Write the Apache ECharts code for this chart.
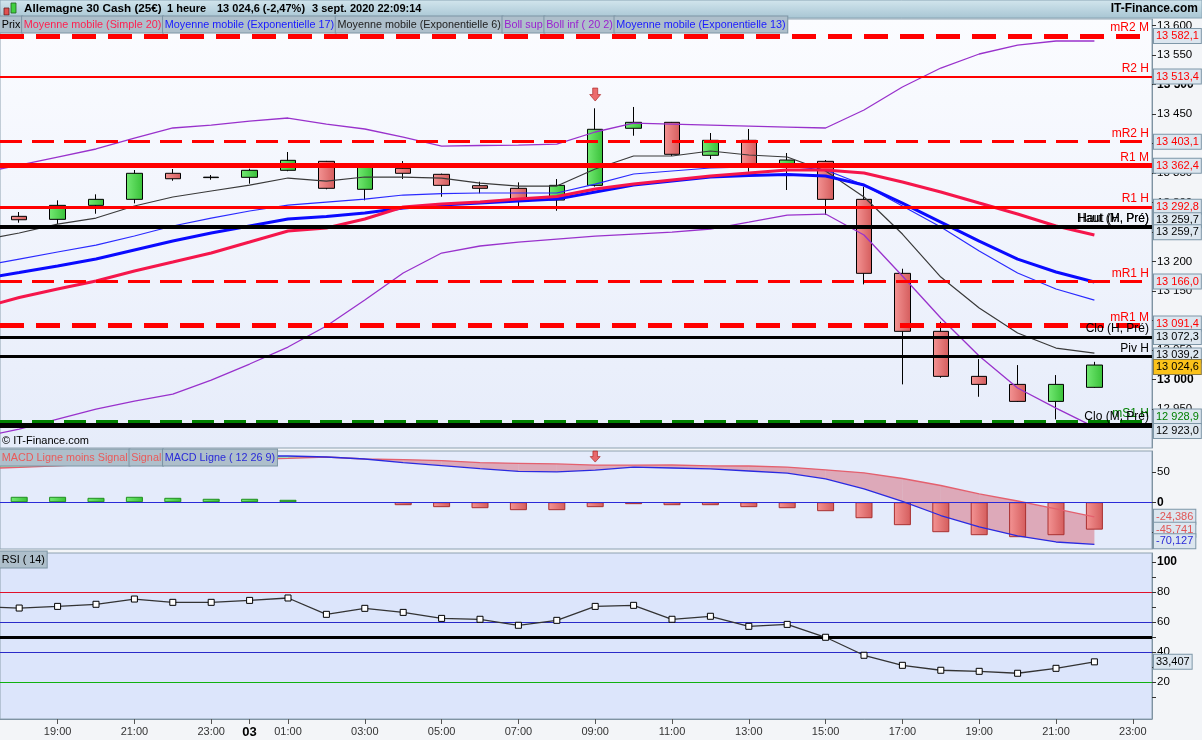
<!DOCTYPE html>
<html><head><meta charset="utf-8">
<script src="https://cdn.jsdelivr.net/npm/echarts@6/dist/echarts.min.js"></script>
<style>html,body{margin:0;padding:0;background:#f3f5f8;}#c{width:1202px;height:740px;}</style>
</head><body><div id="c"></div>
<script>
// ---------------- DATA ----------------
const times = ['2 18:00','2 19:00','2 20:00','2 21:00','2 22:00','2 23:00',
  '3 00:00','3 01:00','3 02:00','3 03:00','3 04:00','3 05:00','3 06:00','3 07:00','3 08:00','3 09:00',
  '3 10:00','3 11:00','3 12:00','3 13:00','3 14:00','3 15:00','3 16:00','3 17:00','3 18:00','3 19:00',
  '3 20:00','3 21:00','3 22:00','3 23:00'];
const openP  = [13276.6,13271.5,13295.2,13305.4,13349.5,13342.2,13342.7,13354.6,13369.8,13322.4,13358.0,13347.8,13328.5,13324.1,13304.2,13329.1,13425.8,13435.9,13380.0,13405.4,13365.3,13369.8,13305.4,13180.0,13081.7,13005.4,12991.8,12963.0,12986.8];
const closeP = [13270.8,13295.2,13305.4,13349.5,13340.3,13343.0,13354.6,13371.5,13324.1,13360.2,13349.5,13329.1,13324.1,13304.2,13329.1,13424.1,13435.9,13381.7,13405.4,13362.0,13372.0,13305.4,13180.0,13081.7,13005.4,12991.8,12963.0,12991.8,13024.6];
const lowP   = [13265.8,13263.5,13281.0,13298.6,13336.9,13338.6,13331.9,13353.0,13322.4,13303.7,13339.8,13309.8,13315.6,13294.1,13286.1,13327.0,13413.2,13378.8,13373.7,13352.2,13321.2,13278.8,13161.3,12991.8,13003.0,12970.8,12962.0,12932.5,12986.0];
const highP  = [13283.9,13303.7,13313.9,13355.1,13356.8,13346.6,13357.3,13385.6,13370.5,13363.0,13370.3,13349.0,13335.2,13334.2,13339.8,13459.7,13461.9,13436.5,13417.8,13424.6,13383.9,13372.0,13326.8,13187.8,13098.0,13034.7,13024.5,13007.6,13030.0];

// indicator lines: first value = 17:00 (just left of the visible window), then 18:00 .. 22:00
const sma20   = [13121.2,13139.0,13153.4,13166.9,13183.9,13199.1,13214.4,13233.0,13251.7,13256.8,13272.0,13292.4,13297.4,13300.8,13305.9,13310.2,13322.9,13331.3,13338.1,13344.9,13350.0,13355.1,13355.1,13350.0,13334.7,13317.8,13299.1,13280.5,13260.2,13244.9];
const ema17   = [13170.3,13181.3,13192.4,13204.2,13219.5,13234.7,13248.3,13260.2,13272.0,13276.3,13282.2,13290.7,13295.7,13299.1,13302.5,13305.9,13317.8,13329.6,13336.4,13343.2,13345.7,13347.4,13344.9,13329.6,13299.1,13266.9,13234.7,13204.2,13182.2,13165.2];
const ema13   = [13192.4,13204.2,13216.1,13227.9,13243.2,13260.2,13273.7,13285.6,13295.7,13300.8,13305.9,13312.7,13315.2,13316.1,13316.1,13316.1,13331.3,13348.3,13353.4,13358.5,13360.2,13361.8,13355.1,13329.6,13294.1,13258.5,13217.8,13180.5,13153.4,13134.7];
const ema6    = [13236.4,13248.3,13263.5,13273.7,13294.1,13309.3,13319.5,13329.6,13341.5,13336.4,13343.2,13343.2,13341.5,13333.0,13327.9,13327.9,13356.8,13378.8,13378.8,13387.3,13380.5,13377.1,13353.4,13309.3,13246.6,13173.7,13121.2,13078.8,13053.4,13044.9];
const bollSup = [13350.0,13363.5,13377.1,13390.7,13409.3,13426.3,13431.3,13438.1,13443.2,13433.0,13424.6,13411.0,13395.7,13396.6,13397.4,13399.1,13419.5,13434.7,13433.0,13431.3,13429.6,13427.9,13426.3,13456.8,13495.7,13527.9,13551.7,13566.9,13573.7,13573.7];
const bollInf = [12902.5,12916.1,12933.0,12950.0,12963.5,12975.4,12999.1,13026.3,13055.1,13090.7,13134.7,13180.5,13214.4,13226.3,13233.0,13238.1,13243.2,13246.6,13250.0,13255.1,13266.9,13278.8,13280.5,13244.9,13175.4,13104.2,13039.8,12985.6,12951.7,12919.5];

const levelNames  = ['mR2 M','R2 H','mR2 H','R1 M','R1 H','Haut (H, Pré)','Haut (M, Pré)','mR1 H','mR1 M','Clo (H, Pré)','Piv H','mS1 H','Clo (M, Pré)'];
const levelValues = [13582.1,13513.4,13403.1,13362.4,13292.8,13259.7,13259.7,13166.0,13091.4,13072.3,13039.2,12928.9,12923.0];
const lastPrice = 13024.6;
const priceTicks = [12950,13000,13050,13100,13150,13200,13250,13300,13350,13400,13450,13500,13550,13600];

const macdLine   = [64.5,67,69.5,71.2,73.7,75.3,76.2,77,77,75.3,72,66,61,56,51.5,50.5,53.5,58.5,57,55.5,52,48.5,39,22.3,1.2,-22.2,-41.3,-56.3,-66.3,-70.127];
const signalLine = [56,58,60.5,63.9,64.7,68,70.5,71.3,73,75.3,72,71,69.3,66,64.8,63.8,61.8,61.8,62,60.5,60.3,58.5,54,49,39.5,27.8,13.7,2,-11.3,-24.386];
const macdHist   = [9.0,9.0,7.3,9.0,7.3,5.7,5.7,4.0,0,0,-5.0,-8.3,-10.0,-13.3,-13.3,-8.3,-3.3,-5.0,-5.0,-8.3,-10.0,-15.0,-26.7,-38.3,-50.0,-55.0,-58.3,-55.0,-45.741];
const macdTicks = [-50,0,50];

const rsi = [70.3,69.3,70.4,71.8,75.3,73.1,73.1,74.4,76.0,65.1,69.1,66.4,62.4,61.8,57.8,61.1,70.4,71.1,61.8,63.8,57.1,58.4,49.8,37.8,31.1,27.8,27.1,25.8,29.1,33.407];
const rsiLevels = [80,60,50,40,20];
const rsiLabels = [20,40,60,80,100];
const rsiTicks = [10,20,30,40,50,60,70,80,90,100];

const signalIdx = 15;            // 09:00 sell signal arrow
const signalArrowPrice = 13483;
const signalArrowMacd = 76;

// ---------------- HELPERS ----------------
const FONT = '"Liberation Sans", Arial, sans-serif';
function fmtNum(v, d) {
  const s = Math.abs(v).toFixed(d);
  let parts = s.split('.');
  let ip = parts[0].replace(/\B(?=(\d{3})+(?!\d))/g, ' ');
  return (v < 0 ? '-' : '') + ip + (parts[1] ? ',' + parts[1] : '');
}
const toXY = arr => arr.map((v, i) => [i - 1, v]);
const hGrad = (a, b) => ({type:'linear', x:0, y:0, x2:1, y2:0, colorStops:[{offset:0, color:a},{offset:1, color:b}]});
const vGrad = (a, b) => ({type:'linear', x:0, y:0, x2:0, y2:1, colorStops:[{offset:0, color:a},{offset:1, color:b}]});
const GREEN = hGrad('#74ea74', '#38c038');
const RED = hGrad('#f49494', '#d45c5c');

const RED_C = '#ff0000', BLK = '#000000', GRN_C = '#008000';
const levelStyle = {
  'mR2 M': {c:RED_C, w:5, t:[24,12]},
  'R2 H': {c:RED_C, w:2, t:'solid'},
  'mR2 H': {c:RED_C, w:3, t:[22,10]},
  'R1 M': {c:RED_C, w:5, t:'solid'},
  'R1 H': {c:RED_C, w:3, t:'solid'},
  'Haut (H, Pré)': {c:BLK, w:4, t:'solid'},
  'Haut (M, Pré)': {c:BLK, w:4, t:'solid'},
  'mR1 H': {c:RED_C, w:3, t:[22,10]},
  'mR1 M': {c:RED_C, w:5, t:[24,12]},
  'Clo (H, Pré)': {c:BLK, w:3, t:'solid'},
  'Piv H': {c:BLK, w:3, t:'solid'},
  'mS1 H': {c:GRN_C, w:4, t:[22,10]},
  'Clo (M, Pré)': {c:BLK, w:5, t:'solid'}
};
const boxOffset = {'Haut (H, Pré)':-6, 'Haut (M, Pré)':6, 'mS1 H':-5, 'Clo (M, Pré)':6, 'mR1 M':-2, 'Piv H':-1};
const boxStyle = {fontSize:11, fontFamily:FONT, backgroundColor:'#dce6ef', borderColor:'#7e97a8', borderWidth:1, padding:[2,2,1,2], distance:2};
const CLEAR = 'rgba(0,0,0,0)';

const levelLines = [];
levelNames.forEach((n, i) => {
  const st = levelStyle[n];
  levelLines.push({yAxis: levelValues[i], lineStyle:{color:st.c, width:st.w, type:st.t},
    label:{show:true, position:'insideEndTop', formatter:n, color:st.c, fontSize:12, fontFamily:FONT, distance:[3,2]}});
});
levelNames.forEach((n, i) => {
  const st = levelStyle[n];
  levelLines.push({yAxis: levelValues[i], lineStyle:{color:CLEAR, width:1},
    label:Object.assign({show:true, position:'end', formatter:fmtNum(levelValues[i],1), color:st.c, offset:[0, boxOffset[n]||0]}, boxStyle)});
});
levelLines.push({yAxis:lastPrice, lineStyle:{color:CLEAR, width:1},
  label:Object.assign({}, boxStyle, {show:true, position:'end', formatter:fmtNum(lastPrice,1), color:'#000', backgroundColor:'#fbc21a', borderColor:'#8a7a40', offset:[0,2]})});

// MACD fill segments
const fillData = [];
for (let i = 0; i < macdLine.length - 1; i++) {
  fillData.push([i - 1, macdLine[i], signalLine[i], i, macdLine[i+1], signalLine[i+1]]);
}
const FILL_NEG = 'rgba(212,88,104,0.45)', FILL_POS = 'rgba(90,200,90,0.45)';
function renderFill(params, api) {
  const x0 = api.value(0), m0 = api.value(1), s0 = api.value(2);
  const x1 = api.value(3), m1 = api.value(4), s1 = api.value(5);
  const d0 = m0 - s0, d1 = m1 - s1;
  const P = (x, y) => api.coord([x, y]);
  const poly = (pts, col) => ({type:'polygon', shape:{points:pts}, style:{fill:col}, silent:true});
  const children = [];
  if (d0 * d1 >= 0) {
    children.push(poly([P(x0,m0), P(x1,m1), P(x1,s1), P(x0,s0)], (d0 + d1) >= 0 ? FILL_POS : FILL_NEG));
  } else {
    const t = d0 / (d0 - d1);
    const xc = x0 + t * (x1 - x0), yc = m0 + t * (m1 - m0);
    children.push(poly([P(x0,m0), P(xc,yc), P(x0,s0)], d0 >= 0 ? FILL_POS : FILL_NEG));
    children.push(poly([P(xc,yc), P(x1,m1), P(x1,s1)], d1 >= 0 ? FILL_POS : FILL_NEG));
  }
  return {type:'group', children};
}

const hourOf = t => parseInt(t.split(' ')[1], 10);
const showHour = (i, v) => { const h = hourOf(v); return h % 2 === 1 || h === 0; };

const arrowPath = 'path://M3,0 L8,0 L8,6 L11,6 L5.5,12 L0,6 L3,6 Z';
const axisCol = '#7f93a2';

const legendSeg = col => ({fill:col, fontSize:10.8, fontFamily:FONT, backgroundColor:'#aebfcb', borderColor:'#7c94a4', borderWidth:1, padding:[3,1.75,2,1.75], lineHeight:11});
const hidX = {show:false, axisLine:{onZero:false}};

// ---------------- CHART ----------------
const chart = echarts.init(document.getElementById('c'));
const option = {
  animation:false,
  backgroundColor:'#f3f5f8',
  textStyle:{fontFamily:FONT},
  grid:[
    {left:0, right:50, top:19, height:429, show:true, backgroundColor:vGrad('#fbfcff','#e6ecfa'), borderColor:'#8ea2b0', borderWidth:1},
    {left:0, right:50, top:451, height:98, show:true, backgroundColor:'#e4ebfb', borderColor:'#8ea2b0', borderWidth:1},
    {left:0, right:50, top:553, height:166, show:true, backgroundColor:'#dce5fb', borderColor:'#8ea2b0', borderWidth:1}
  ],
  xAxis:[
    Object.assign({type:'category', gridIndex:0, data:times}, hidX),
    Object.assign({type:'value', gridIndex:0, min:-0.5, max:29.5}, hidX),
    Object.assign({type:'category', gridIndex:1, data:times}, hidX),
    Object.assign({type:'value', gridIndex:1, min:-0.5, max:29.5}, hidX),
    {type:'category', gridIndex:2, data:times,
      axisLine:{show:true, onZero:false, lineStyle:{color:axisCol}},
      axisTick:{show:true, interval:showHour, alignWithLabel:true, length:5, lineStyle:{color:'#555'}},
      axisLabel:{interval:showHour, color:'#333', fontSize:11, margin:7,
        formatter:v => hourOf(v) === 0 ? '{d|' + v.split(' ')[0].padStart(2,'0') + '}' : v.split(' ')[1],
        rich:{d:{fontWeight:'bold', fontSize:13, color:'#000'}}},
      splitLine:{show:false}},
    Object.assign({type:'value', gridIndex:2, min:-0.5, max:29.5}, hidX)
  ],
  yAxis:[
    {type:'value', gridIndex:0, position:'right', min:12884, max:13611, splitLine:{show:false},
      axisLine:{show:true, onZero:false, lineStyle:{color:axisCol}},
      axisTick:{show:true, length:4, customValues:priceTicks, lineStyle:{color:'#333'}},
      axisLabel:{customValues:priceTicks, fontSize:11.5, color:'#000', margin:5,
        formatter:v => (v % 500 === 0 ? '{b|' + fmtNum(v,0) + '}' : fmtNum(v,0)),
        rich:{b:{fontWeight:'bold', fontSize:12, color:'#000'}}}},
    {type:'value', gridIndex:1, position:'right', min:-78, max:85.3, splitLine:{show:false},
      axisLine:{show:true, onZero:false, lineStyle:{color:axisCol}},
      axisTick:{show:true, length:4, customValues:macdTicks, lineStyle:{color:'#333'}},
      axisLabel:{customValues:macdTicks, fontSize:11.5, color:'#000', margin:5,
        formatter:v => (v === 0 ? '{b|0}' : fmtNum(v,0)),
        rich:{b:{fontWeight:'bold', fontSize:12, color:'#000'}}}},
    {type:'value', gridIndex:2, position:'right', min:-4.7, max:106, splitLine:{show:false},
      axisLine:{show:true, onZero:false, lineStyle:{color:axisCol}},
      axisTick:{show:true, length:4, customValues:rsiTicks, lineStyle:{color:'#333'}},
      axisLabel:{customValues:rsiLabels, fontSize:11.5, color:'#000', margin:5,
        formatter:v => (v === 100 ? '{b|100}' : String(v)),
        rich:{b:{fontWeight:'bold', fontSize:12, color:'#000'}}}}
  ],
  series:[
    {type:'candlestick', name:'Prix', xAxisIndex:0, yAxisIndex:0, z:2, barWidth:16, silent:true,
      data: openP.map((o, i) => [o, closeP[i], lowP[i], highP[i]]),
      itemStyle:{color:GREEN, color0:RED, borderColor:'#000', borderColor0:'#000', borderWidth:1}},
    {type:'line', name:'Boll sup', xAxisIndex:1, yAxisIndex:0, z:3, showSymbol:false, silent:true,
      data:toXY(bollSup), lineStyle:{color:'#9932cc', width:1.3},
      markLine:{symbol:['none','none'], silent:true, animation:false, data:levelLines}},
    {type:'line', name:'Boll inf', xAxisIndex:1, yAxisIndex:0, z:3, showSymbol:false, silent:true,
      data:toXY(bollInf), lineStyle:{color:'#9932cc', width:1.3}},
    {type:'line', name:'EMA6', xAxisIndex:1, yAxisIndex:0, z:3, showSymbol:false, silent:true,
      data:toXY(ema6), lineStyle:{color:'#3a3a3a', width:1.2}},
    {type:'line', name:'EMA13', xAxisIndex:1, yAxisIndex:0, z:3, showSymbol:false, silent:true,
      data:toXY(ema13), lineStyle:{color:'#2a2aff', width:1.2}},
    {type:'line', name:'EMA17', xAxisIndex:1, yAxisIndex:0, z:3, showSymbol:false, silent:true,
      data:toXY(ema17), lineStyle:{color:'#0a0aff', width:3}},
    {type:'line', name:'SMA20', xAxisIndex:1, yAxisIndex:0, z:3, showSymbol:false, silent:true,
      data:toXY(sma20), lineStyle:{color:'#f5164b', width:3}},
    {type:'scatter', xAxisIndex:0, yAxisIndex:0, z:6, silent:true, symbol:arrowPath, symbolSize:[11,13],
      data:[[signalIdx, signalArrowPrice]], itemStyle:{color:'#e84848', borderColor:'#a82020', borderWidth:0.8}},

    // MACD
    {type:'custom', xAxisIndex:3, yAxisIndex:1, z:1, silent:true, renderItem:renderFill,
      encode:{x:[0,3], y:[1,2,4,5]}, data:fillData},
    {type:'bar', name:'MACD Ligne moins Signal', xAxisIndex:2, yAxisIndex:1, z:2, barWidth:17, silent:true,
      data: macdHist.map(v => ({value:v, itemStyle: v > 0
        ? {color:GREEN, borderColor:'#1f8f1f', borderWidth:1}
        : (v < 0 ? {color:RED, borderColor:'#a83030', borderWidth:1} : {color:CLEAR, borderWidth:0})})),
      markLine:{symbol:['none','none'], silent:true, animation:false, data:[
        {yAxis:0, lineStyle:{color:'#2a2ad8', width:1.2, type:'solid'}, label:{show:false}},
        {yAxis:signalLine[signalLine.length-1], lineStyle:{color:CLEAR, width:1},
          label:Object.assign({show:true, position:'end', formatter:fmtNum(signalLine[signalLine.length-1],3), color:'#e05555', offset:[0,0]}, boxStyle)},
        {yAxis:macdHist[macdHist.length-1], lineStyle:{color:CLEAR, width:1},
          label:Object.assign({show:true, position:'end', formatter:fmtNum(macdHist[macdHist.length-1],3), color:'#e05555', offset:[0,0]}, boxStyle)},
        {yAxis:macdLine[macdLine.length-1], lineStyle:{color:CLEAR, width:1},
          label:Object.assign({show:true, position:'end', formatter:fmtNum(macdLine[macdLine.length-1],3), color:'#2a2ad8', offset:[0,-3]}, boxStyle)}
      ]}},
    {type:'line', name:'Signal', xAxisIndex:3, yAxisIndex:1, z:3, showSymbol:false, silent:true,
      data:toXY(signalLine), lineStyle:{color:'#e4606e', width:1.3}},
    {type:'line', name:'MACD Ligne', xAxisIndex:3, yAxisIndex:1, z:3, showSymbol:false, silent:true,
      data:toXY(macdLine), lineStyle:{color:'#2a2ae0', width:1.3}},
    {type:'scatter', xAxisIndex:2, yAxisIndex:1, z:6, silent:true, symbol:arrowPath, symbolSize:[10,11],
      data:[[signalIdx, signalArrowMacd]], itemStyle:{color:'#e84848', borderColor:'#a82020', borderWidth:0.8}},

    // RSI
    {type:'line', name:'RSI', xAxisIndex:5, yAxisIndex:2, z:6, silent:true, symbol:'rect', symbolSize:6,
      data:toXY(rsi), lineStyle:{color:'#333', width:1.3},
      itemStyle:{color:'#ffffff', borderColor:'#000', borderWidth:1},
      markLine:{symbol:['none','none'], silent:true, animation:false, data:[
        ...rsiLevels.map(v => ({yAxis:v, label:{show:false},
          lineStyle:{type:'solid', color: v === 80 ? '#e0102a' : v === 20 ? '#10b010' : v === 50 ? '#000' : '#2a2ac8', width: v === 50 ? 3 : 1}})),
        {yAxis:rsi[rsi.length-1], lineStyle:{color:CLEAR, width:1},
          label:Object.assign({show:true, position:'end', formatter:fmtNum(rsi[rsi.length-1],3), color:'#000'}, boxStyle)}
      ]}}
  ],
  graphic:[
    // header bar
    {type:'rect', z:50, shape:{x:0, y:0, width:1202, height:18}, style:{fill:vGrad('#d3e6ee','#a7c5d3'), stroke:'#8aa4b4', lineWidth:1}},
    {type:'rect', z:51, shape:{x:4, y:8, width:5, height:7}, style:{fill:'#e05050', stroke:'#602020', lineWidth:0.8}},
    {type:'rect', z:51, shape:{x:11, y:3, width:5, height:10}, style:{fill:'#40d040', stroke:'#206020', lineWidth:0.8}},
    {type:'text', z:52, x:24, y:9, style:{text:'Allemagne 30 Cash (25€)', font:'bold 11.7px ' + FONT, fill:'#000', verticalAlign:'middle'}},
    {type:'text', z:52, x:167, y:9, style:{text:'1 heure', font:'bold 11px ' + FONT, fill:'#000', verticalAlign:'middle'}},
    {type:'text', z:52, x:217, y:9, style:{text:'13 024,6 (-2,47%)', font:'bold 11px ' + FONT, fill:'#000', verticalAlign:'middle'}},
    {type:'text', z:52, x:312, y:9, style:{text:'3 sept. 2020 22:09:14', font:'bold 11px ' + FONT, fill:'#000', verticalAlign:'middle'}},
    {type:'text', z:52, x:1198, y:9, style:{text:'IT-Finance.com', font:'bold 12px ' + FONT, fill:'#000', verticalAlign:'middle', align:'right'}},
    // legend rows
    {type:'text', z:60, x:0, y:19, style:{verticalAlign:'top',
      text:'{a|Prix}{b|Moyenne mobile (Simple 20)}{c|Moyenne mobile (Exponentielle 17)}{d|Moyenne mobile (Exponentielle 6)}{e|Boll sup}{e|Boll inf ( 20 2)}{c|Moyenne mobile (Exponentielle 13)}',
      rich:{a:legendSeg('#000'), b:legendSeg('#ff1f4f'), c:legendSeg('#1a1aff'), d:legendSeg('#222'), e:legendSeg('#9a22d0')}}},
    {type:'text', z:60, x:2, y:441, style:{text:'© IT-Finance.com', font:'11px ' + FONT, fill:'#000', verticalAlign:'middle'}},
    {type:'text', z:60, x:0, y:452, style:{verticalAlign:'top',
      text:'{a|MACD Ligne moins Signal}{a|Signal}{c|MACD Ligne ( 12 26 9)}',
      rich:{a:legendSeg('#ea5a5a'), c:legendSeg('#2a2ad8')}}},
    {type:'text', z:60, x:0, y:554, style:{verticalAlign:'top', text:'{a|RSI ( 14)}', rich:{a:legendSeg('#000')}}}
  ]
};
chart.setOption(option);
</script>
</body></html>
